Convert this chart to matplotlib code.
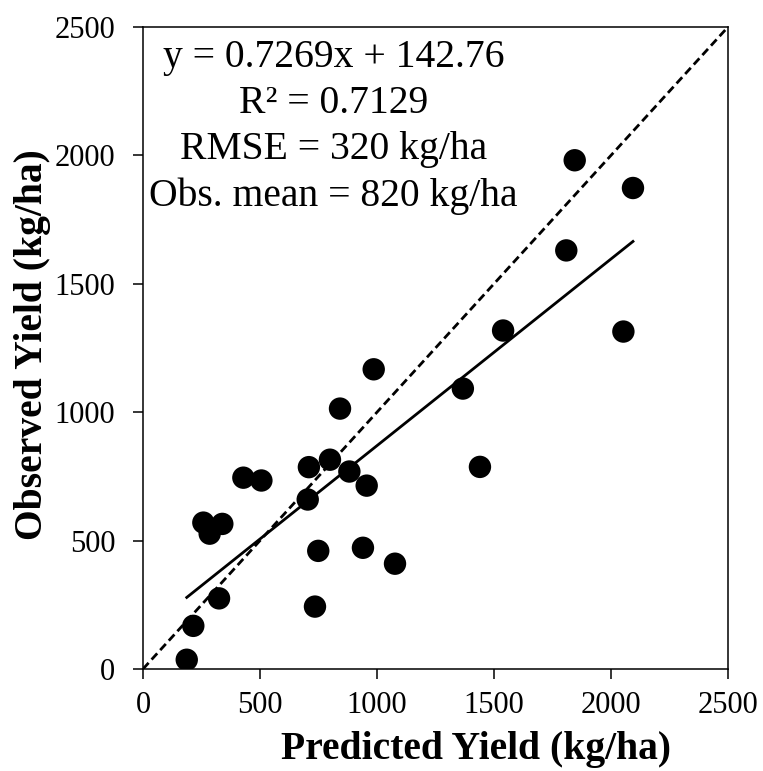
import numpy as np
import matplotlib
matplotlib.use('Agg')
import matplotlib.pyplot as plt

# Predicted vs observed yield (kg/ha)
predicted = [187, 215, 325, 258, 285, 339, 429, 506, 704, 709, 799, 882, 956,
             842, 986, 749, 735, 940, 1077, 1367, 1440, 1845, 2094, 1809, 2053, 1539]
observed = [36, 168, 275, 570, 527, 565, 745, 734, 660, 786, 815, 769, 714,
            1014, 1167, 460, 243, 472, 410, 1092, 787, 1981, 1873, 1630, 1314, 1318]

slope = 0.7269
intercept = 142.76
stats_lines = ['y = 0.7269x + 142.76', 'R\u00b2 = 0.7129',
               'RMSE = 320 kg/ha', 'Obs. mean = 820 kg/ha']
ticks = [0, 500, 1000, 1500, 2000, 2500]

plt.rcParams['font.family'] = ['Liberation Serif', 'DejaVu Serif']

fig = plt.figure(figsize=(7.63, 7.71), dpi=100)
ax = fig.add_axes([0.1874, 0.1323, 0.7667, 0.8327])

# 1:1 line
ax.plot([ticks[0], ticks[-1]], [ticks[0], ticks[-1]], color='black',
        linestyle=(0, (3, 1.6)), linewidth=2.0, zorder=1)

# fitted regression line over the data range
x = np.array(predicted)
xs = np.array([x.min(), x.max()])
ax.plot(xs, slope * xs + intercept, color='black', linewidth=2.0, zorder=2)

ax.scatter(predicted, observed, s=260, color='black', edgecolors='none', zorder=3)

ax.set_xlim(0, 2500)
ax.set_ylim(0, 2500)
ax.set_xticks(ticks)
ax.set_yticks(ticks)
ax.tick_params(axis='both', direction='out', length=7, width=1.1,
               labelsize=22, top=False, right=False)
ax.tick_params(axis='x', pad=9)
ax.tick_params(axis='y', pad=13)
for sp in ax.spines.values():
    sp.set_linewidth(1.1)

ax.set_xlabel('Predicted Yield (kg/ha)', fontsize=28.5, fontweight='bold', va='top')
ax.set_ylabel('Observed Yield (kg/ha)', fontsize=28.5, fontweight='bold')
ax.xaxis.set_label_coords(0.569, -0.097)
ax.yaxis.set_label_coords(-0.157, 0.506)

ax.text(0.326, 0.981, '\n'.join(stats_lines), transform=ax.transAxes,
        ha='center', va='top', multialignment='center', fontsize=28.5,
        linespacing=1.32)

fig.savefig('out.png', dpi=100)
